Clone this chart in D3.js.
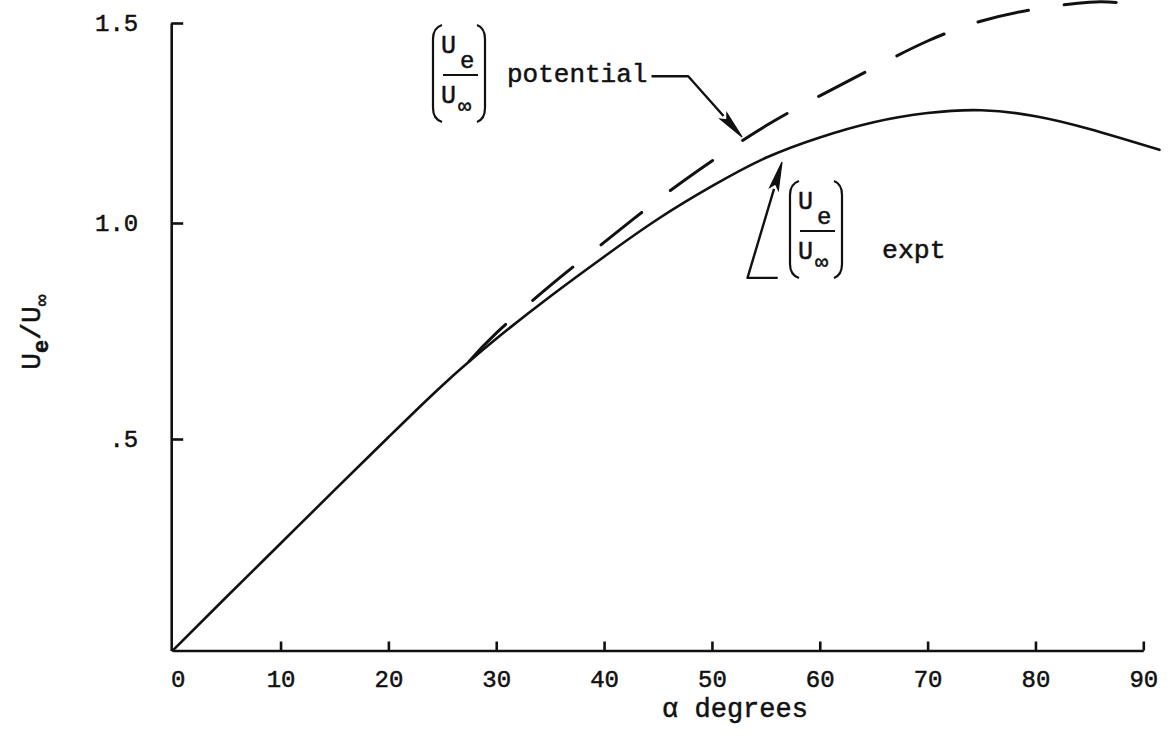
<!DOCTYPE html>
<html>
<head>
<meta charset="utf-8">
<script src="https://cdn.jsdelivr.net/npm/d3@7"></script>
<style>
  html, body { margin: 0; padding: 0; background: #fff; }
  svg { display: block; }
  text {
    font-family: "Liberation Mono", "DejaVu Sans Mono", monospace;
    fill: #111;
    stroke: #111;
    stroke-width: 0.5px;
  }
</style>
</head>
<body>
<svg id="chart" width="1174" height="747"></svg>
<script>
// Angle of attack (degrees) and edge-velocity ratio, measured curve
const alphaExpt = [0, 5, 10, 15, 20, 25, 30, 35, 40, 45, 50, 55, 60, 65, 70, 75, 80, 85, 91.5];
const ueExpt    = [0, 0.127, 0.253, 0.379, 0.504, 0.624, 0.732, 0.830, 0.922, 1.010, 1.092, 1.163, 1.214, 1.252, 1.275, 1.282, 1.267, 1.235, 1.183];

// Potential-flow curve
const alphaPot = [27.5, 30, 35, 40, 45, 50, 55, 60, 65, 70, 75, 80, 85, 88];
const uePot    = [0.68, 0.745, 0.855, 0.955, 1.058, 1.155, 1.243, 1.318, 1.388, 1.455, 1.505, 1.535, 1.552, 1.55];

// Axis ticks
const xTicks = [0, 10, 20, 30, 40, 50, 60, 70, 80, 90];
const yTicks = [0.5, 1.0, 1.5];
const yTickLabels = [".5", "1.0", "1.5"];

const svg = d3.select("#chart");
const ink = "#111";

// The hand-ruled vertical axis has slightly uneven spacing between its marks
const x = d3.scaleLinear().domain([0, 90]).range([172.7, 1143.3]);
const y = d3.scaleLinear().domain([0, 0.5, 1.0, 1.5]).range([650.5, 439, 223, 23]);

// ---- axes ----
const xAxis = d3.axisBottom(x)
  .tickValues(xTicks)
  .tickFormat(d3.format("d"))
  .tickSizeInner(-9)
  .tickSizeOuter(0)
  .tickPadding(19);

const yAxis = d3.axisLeft(y)
  .tickValues(yTicks)
  .tickFormat((d, i) => yTickLabels[i])
  .tickSizeInner(-12)
  .tickSizeOuter(0)
  .tickPadding(33);

const gx = svg.append("g").attr("transform", `translate(0,${y(0)})`).call(xAxis);
const gy = svg.append("g").attr("transform", `translate(${x(0) - 1.5},0)`).call(yAxis);

[gx, gy].forEach(g => {
  g.selectAll("path.domain").attr("stroke", ink).attr("stroke-width", 2.6);
  g.selectAll(".tick line").attr("stroke", ink).attr("stroke-width", 2.6);
  g.selectAll(".tick text")
    .style("font-family", '"Liberation Mono", monospace')
    .style("font-size", "24px")
    .attr("fill", ink);
});
gx.selectAll(".tick").filter(d => d === 0).select("line").remove();
gx.selectAll(".tick").filter(d => d === 0).select("text").attr("x", 5);

// ---- curves ----
const line = d3.line()
  .x(d => x(d[0]))
  .y(d => y(d[1]))
  .curve(d3.curveNatural);

svg.append("path")
  .datum(d3.zip(alphaExpt, ueExpt))
  .attr("d", line)
  .attr("fill", "none")
  .attr("stroke", ink)
  .attr("stroke-width", 2.6)
  .attr("stroke-linecap", "round");

svg.append("path")
  .datum(d3.zip(alphaPot, uePot))
  .attr("d", line)
  .attr("fill", "none")
  .attr("stroke", ink)
  .attr("stroke-width", 3)
  .attr("stroke-dasharray", "52,36")
  .attr("stroke-linecap", "round");

// ---- axis titles ----
svg.append("text")
  .attr("x", 735)
  .attr("y", 717)
  .attr("text-anchor", "middle")
  .style("font-size", "27px")
  .text("α degrees");

const yTitle = svg.append("text")
  .attr("transform", "translate(40,332) rotate(-90)")
  .attr("text-anchor", "middle")
  .style("font-size", "28px");
yTitle.append("tspan").text("U");
yTitle.append("tspan").attr("dy", 8).style("font-size", "22px").style("font-weight", "bold").text("e");
yTitle.append("tspan").attr("dy", -8).text("/U");
yTitle.append("tspan").attr("dy", 8).style("font-size", "20px").text("∞");

// ---- labelled ratio in parentheses ----
function ratioLabel(left, top) {
  const g = svg.append("g").attr("transform", `translate(${left},${top})`);
  const h = 97;
  g.append("path")
    .attr("d", `M9,0 Q0,3 0,14 L0,${h - 14} Q0,${h - 3} 9,${h}`)
    .attr("fill", "none").attr("stroke", ink).attr("stroke-width", 2.2);
  g.append("path")
    .attr("d", `M44,0 Q52,3 52,14 L52,${h - 14} Q52,${h - 3} 44,${h}`)
    .attr("fill", "none").attr("stroke", ink).attr("stroke-width", 2.2);
  g.append("text").attr("x", 8).attr("y", 28).style("font-size", "25px").text("U");
  g.append("text").attr("x", 27).attr("y", 43).style("font-size", "24px").text("e");
  g.append("line").attr("x1", 10).attr("x2", 45).attr("y1", 50).attr("y2", 50)
    .attr("stroke", ink).attr("stroke-width", 2.2);
  g.append("text").attr("x", 8).attr("y", 78).style("font-size", "25px").text("U");
  g.append("text").attr("x", 25).attr("y", 88).style("font-size", "22px").text("∞");
}

function arrow(points) {
  const pts = points.map(p => [x(p[0]), y(p[1])]);
  const tip = pts[pts.length - 1];
  const prev = pts[pts.length - 2];
  const dx = tip[0] - prev[0], dy = tip[1] - prev[1];
  const len = Math.hypot(dx, dy);
  const ux = dx / len, uy = dy / len;
  const L = 28, w = 4.5;
  const base = [tip[0] - L * ux, tip[1] - L * uy];
  const shaft = pts.slice(0, -1).concat([base]);
  svg.append("path")
    .attr("d", d3.line()(shaft))
    .attr("fill", "none").attr("stroke", ink).attr("stroke-width", 2.4)
    .attr("stroke-linejoin", "round");
  svg.append("path")
    .attr("d", d3.line()([
      tip,
      [base[0] - w * uy, base[1] + w * ux],
      [tip[0] - (L - 5) * ux, tip[1] - (L - 5) * uy],
      [base[0] + w * uy, base[1] - w * ux]
    ]) + "Z")
    .attr("fill", ink).attr("stroke", ink).attr("stroke-width", 1.2);
}

// potential
ratioLabel(433, 25);
svg.append("text").attr("x", 507).attr("y", 82).style("font-size", "26px").text("potential");
arrow([[44.4, 1.367], [47.8, 1.367], [52.8, 1.215]]);

// experiment
ratioLabel(790, 181);
svg.append("text").attr("x", 882).attr("y", 258).style("font-size", "26.5px").text("expt");
arrow([[56.1, 0.873], [53.3, 0.873], [56.5, 1.1525]]);
</script>
</body>
</html>
